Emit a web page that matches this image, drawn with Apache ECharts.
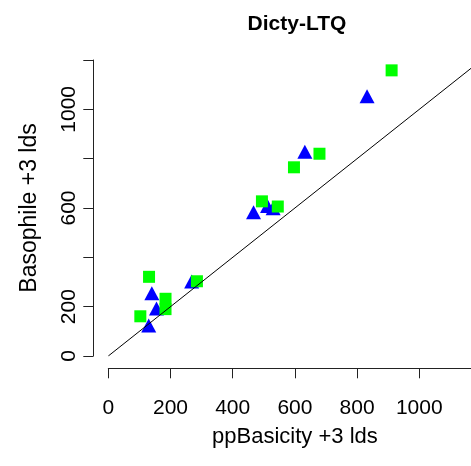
<!DOCTYPE html>
<html>
<head>
<meta charset="utf-8">
<script src="https://cdn.jsdelivr.net/npm/echarts@6/dist/echarts.min.js"></script>
<style>
  html, body { margin: 0; padding: 0; background: #fff; }
  #chart { width: 471px; height: 466px; }
</style>
</head>
<body>
<div id="chart"></div>
<script>
// ppBasicity vs Basophile peptide counts (+3 ids), Dicty-LTQ
const triangleX = [140, 155, 130, 268, 632, 467, 512, 530, 832];
const triangleY = [245, 183, 114, 293, 819, 573, 599, 590, 1044];

const squareX = [131, 184, 184, 103, 285, 679, 597, 494, 545, 911];
const squareY = [321, 232, 190, 161, 303, 820, 765, 627, 606, 1158];

// identity reference line y = x
const refLineX = [0, 1200];
const refLineY = [0, 1200];

const axisTicks = [0, 200, 400, 600, 800, 1000, 1200];
const xTickLabels = ['0', '200', '400', '600', '800', '1000', ''];
const yTickLabels = ['0', '200', '', '600', '', '1000', ''];

const FONT = "'Liberation Sans', Arial, Helvetica, sans-serif";

function zip(xs, ys) { return xs.map((x, i) => [x, ys[i]]); }
function labelFor(ticks, labels) {
  return v => { const i = ticks.indexOf(v); return i >= 0 ? labels[i] : ''; };
}

const chart = echarts.init(document.getElementById('chart'), null, { renderer: 'canvas' });

chart.setOption({
  animation: false,
  backgroundColor: '#ffffff',
  title: {
    text: 'Dicty-LTQ',
    left: 292,
    top: 9,
    textAlign: 'center',
    textStyle: { fontFamily: FONT, fontSize: 21, fontWeight: 'bold', color: '#000' }
  },
  // plotting area runs past the right edge of the page, as the x axis does
  grid: {
    left: 108.3, width: 373.2, top: 60, height: 296,
    containLabel: false,
    outerBoundsMode: 'none'
  },
  xAxis: {
    type: 'value',
    min: axisTicks[0],
    max: axisTicks[axisTicks.length - 1],
    interval: 200,
    offset: 12.3,
    name: 'ppBasicity +3 lds',
    nameLocation: 'middle',
    nameGap: 58,
    nameTextStyle: { fontFamily: FONT, fontSize: 22, color: '#000' },
    axisLine: { show: true, onZero: false, lineStyle: { color: '#222', width: 1 } },
    axisTick: { show: true, inside: false, length: 10, lineStyle: { color: '#222', width: 1 } },
    axisLabel: {
      margin: 29,
      fontFamily: FONT, fontSize: 21, color: '#000',
      formatter: labelFor(axisTicks, xTickLabels)
    },
    splitLine: { show: false }
  },
  yAxis: {
    type: 'value',
    min: axisTicks[0],
    max: axisTicks[axisTicks.length - 1],
    interval: 200,
    offset: 15,
    name: 'Basophile +3 lds',
    nameLocation: 'middle',
    nameGap: 52,
    nameRotate: 90,
    nameTextStyle: { fontFamily: FONT, fontSize: 23, color: '#000' },
    axisLine: { show: true, onZero: false, lineStyle: { color: '#222', width: 1 } },
    axisTick: { show: true, inside: false, length: 10, lineStyle: { color: '#222', width: 1 } },
    axisLabel: {
      rotate: 90,
      margin: 14,
      fontFamily: FONT, fontSize: 21, color: '#000',
      formatter: labelFor(axisTicks, yTickLabels)
    },
    splitLine: { show: false }
  },
  series: [
    {
      type: 'scatter',
      data: zip(triangleX, triangleY),
      symbol: 'triangle',
      symbolSize: [15, 14],
      symbolOffset: [0, -2.3],
      itemStyle: { color: '#0000ff', opacity: 1 },
      clip: false
    },
    {
      type: 'scatter',
      data: zip(squareX, squareY),
      symbol: 'rect',
      symbolSize: 12,
      itemStyle: { color: '#00ff00', opacity: 1 },
      clip: false
    },
    {
      type: 'line',
      data: zip(refLineX, refLineY),
      showSymbol: false,
      symbol: 'none',
      lineStyle: { color: '#000', width: 1 },
      silent: true
    }
  ]
});
</script>
</body>
</html>
